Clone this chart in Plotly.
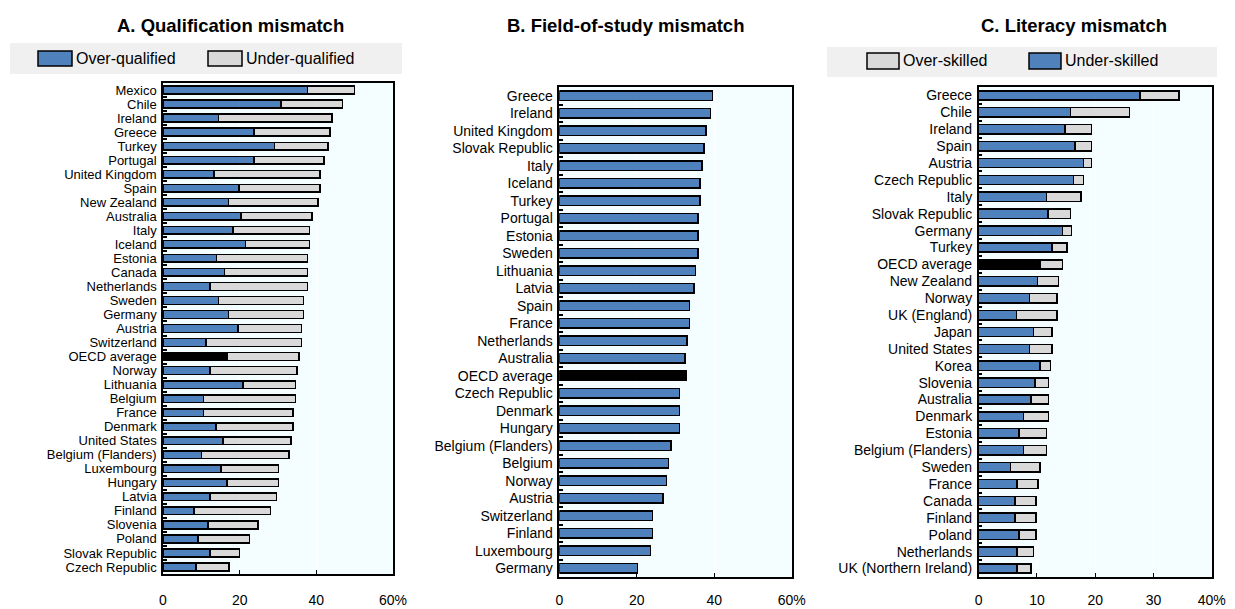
import plotly.graph_objects as go

# ---------------- Data ----------------
# Panel A: Qualification mismatch (%)
a_countries = ["Mexico", "Chile", "Ireland", "Greece", "Turkey", "Portugal", "United Kingdom",
               "Spain", "New Zealand", "Australia", "Italy", "Iceland", "Estonia", "Canada",
               "Netherlands", "Sweden", "Germany", "Austria", "Switzerland", "OECD average",
               "Norway", "Lithuania", "Belgium", "France", "Denmark", "United States",
               "Belgium (Flanders)", "Luxembourg", "Hungary", "Latvia", "Finland", "Slovenia",
               "Poland", "Slovak Republic", "Czech Republic"]
a_over_qualified = [37.7, 30.8, 14.5, 23.7, 29.1, 23.7, 13.3, 19.8, 17.1, 20.3, 18.3, 21.5, 13.9,
                    16.0, 12.3, 14.5, 17.1, 19.5, 11.2, 16.8, 12.3, 20.9, 10.6, 10.6, 13.8, 15.6,
                    10.1, 15.1, 16.7, 12.3, 8.1, 11.8, 9.1, 12.3, 8.6]
a_under_qualified = [12.3, 16.0, 29.6, 19.8, 13.9, 18.3, 27.7, 21.2, 23.3, 18.6, 19.9, 16.7, 23.8,
                     21.7, 25.4, 22.1, 19.5, 16.6, 24.9, 18.7, 22.7, 13.6, 23.9, 23.3, 20.1, 17.8,
                     22.8, 15.0, 13.4, 17.3, 19.9, 13.0, 13.5, 7.6, 8.6]

# Panel B: Field-of-study mismatch (%)
b_countries = ["Greece", "Ireland", "United Kingdom", "Slovak Republic", "Italy", "Iceland",
               "Turkey", "Portugal", "Estonia", "Sweden", "Lithuania", "Latvia", "Spain",
               "France", "Netherlands", "Australia", "OECD average", "Czech Republic",
               "Denmark", "Hungary", "Belgium (Flanders)", "Belgium", "Norway", "Austria",
               "Switzerland", "Finland", "Luxembourg", "Germany"]
b_field_mismatch = [39.5, 39.0, 37.9, 37.3, 36.8, 36.3, 36.3, 35.8, 35.8, 35.8, 35.2, 34.7, 33.6,
                    33.6, 33.0, 32.5, 32.7, 31.0, 31.0, 31.0, 28.8, 28.2, 27.7, 26.7, 24.0, 24.0,
                    23.5, 20.2]

# Panel C: Literacy mismatch (%)
c_countries = ["Greece", "Chile", "Ireland", "Spain", "Austria", "Czech Republic", "Italy",
               "Slovak Republic", "Germany", "Turkey", "OECD average", "New Zealand", "Norway",
               "UK (England)", "Japan", "United States", "Korea", "Slovenia", "Australia",
               "Denmark", "Estonia", "Belgium (Flanders)", "Sweden", "France", "Canada",
               "Finland", "Poland", "Netherlands", "UK (Northern Ireland)"]
c_under_skilled = [27.7, 15.8, 14.8, 16.5, 18.0, 16.3, 11.6, 11.9, 14.4, 12.6, 10.6, 10.1, 8.7,
                   6.5, 9.4, 8.7, 10.5, 9.7, 9.0, 7.7, 6.9, 7.7, 5.5, 6.6, 6.2, 6.2, 6.9, 6.6, 6.6]
c_over_skilled = [6.7, 10.1, 4.6, 2.9, 1.4, 1.7, 6.0, 3.9, 1.5, 2.6, 3.8, 3.6, 4.7, 6.9, 3.2, 3.9,
                  1.8, 2.3, 3.0, 4.3, 4.7, 3.9, 5.0, 3.6, 3.6, 3.6, 2.9, 2.8, 2.4]

# Axis ticks
a_tickvals = [0, 20, 40, 60]
a_ticktext = ["0", "20", "40", "60%"]
b_tickvals = [0, 20, 40, 60]
b_ticktext = ["0", "20", "40", "60%"]
c_tickvals = [0, 10, 20, 30, 40]
c_ticktext = ["0", "10", "20", "30", "40%"]

# Legend labels
a_legend = ["Over-qualified", "Under-qualified"]
c_legend = ["Over-skilled", "Under-skilled"]

# ---------------- Styles ----------------
BLUE = "#4F81BD"
GREY = "#D9D9D9"
BLACK = "#000000"
PLOT_BG = "#F4FDFF"
LEG_BG = "#F0F0F0"
FONT = "Liberation Sans, Arial, sans-serif"
W, H = 1235, 609


def colors(cats, base):
    return [BLACK if c == "OECD average" else base for c in cats]


outline = dict(color=BLACK, width=1.5)

fig = go.Figure()

# Panel A
fig.add_trace(go.Bar(y=a_countries, x=a_over_qualified, orientation="h", name=a_legend[0],
                     marker=dict(color=colors(a_countries, BLUE), line=outline),
                     xaxis="x", yaxis="y", showlegend=False))
fig.add_trace(go.Bar(y=a_countries, x=a_under_qualified, orientation="h", name=a_legend[1],
                     marker=dict(color=GREY, line=outline),
                     xaxis="x", yaxis="y", showlegend=False))
# Panel B
fig.add_trace(go.Bar(y=b_countries, x=b_field_mismatch, orientation="h", name="Field-of-study mismatch",
                     marker=dict(color=colors(b_countries, BLUE), line=outline),
                     xaxis="x2", yaxis="y2", showlegend=False))
# Panel C
fig.add_trace(go.Bar(y=c_countries, x=c_under_skilled, orientation="h", name=c_legend[1],
                     marker=dict(color=colors(c_countries, BLUE), line=outline),
                     xaxis="x3", yaxis="y3", showlegend=False))
fig.add_trace(go.Bar(y=c_countries, x=c_over_skilled, orientation="h", name=c_legend[0],
                     marker=dict(color=GREY, line=outline),
                     xaxis="x3", yaxis="y3", showlegend=False))


def xax(domain, rng, tv, tt, anchor, standoff):
    return dict(domain=domain, range=rng, tickvals=tv, ticktext=tt, anchor=anchor, showgrid=True,
                gridcolor="white", gridwidth=1, zeroline=False, showline=True, linecolor=BLACK,
                linewidth=1.5, mirror=True, ticks="inside", ticklen=4, tickcolor=BLACK,
                tickfont=dict(size=14, color=BLACK), ticklabelstandoff=standoff, fixedrange=True,
                automargin=False)


def yax(domain, cats, anchor, fs):
    n = len(cats)
    return dict(domain=domain, anchor=anchor, type="category", categoryorder="array",
                categoryarray=cats, range=[n - 0.5, -0.5], tickmode="linear", tick0=0, dtick=1,
                showline=True, linecolor=BLACK, linewidth=1.5, mirror=True, ticks="inside",
                tickson="boundaries", ticklen=4, tickwidth=1.5, tickcolor=BLACK, showgrid=False,
                tickfont=dict(size=fs, color=BLACK), ticklabelstandoff=2, fixedrange=True,
                automargin=False)


def px(v):
    return v / W


def py(v):
    return 1 - v / H


def legend_item(x0, y0, x1, y1, color, label):
    shape = dict(type="rect", xref="paper", yref="paper", x0=px(x0), x1=px(x1), y0=py(y1), y1=py(y0),
                 fillcolor=color, line=dict(color=BLACK, width=1.5))
    ann = dict(text=label, xref="paper", yref="paper", x=px(x1 + 2), y=py((y0 + y1) / 2),
               xanchor="left", yanchor="middle", showarrow=False, font=dict(size=16))
    return shape, ann


shapes = [
    dict(type="rect", xref="paper", yref="paper", x0=px(10), x1=px(402), y0=py(74), y1=py(43),
         fillcolor=LEG_BG, line=dict(width=0), layer="below"),
    dict(type="rect", xref="paper", yref="paper", x0=px(827), x1=px(1217), y0=py(77), y1=py(47),
         fillcolor=LEG_BG, line=dict(width=0), layer="below"),
]
annotations = [
    dict(text="<b>A. Qualification mismatch</b>", xref="paper", yref="paper", x=px(230), y=py(26),
         showarrow=False, font=dict(size=18.5), xanchor="center", yanchor="middle"),
    dict(text="<b>B. Field-of-study mismatch</b>", xref="paper", yref="paper", x=px(625), y=py(26),
         showarrow=False, font=dict(size=18.5), xanchor="center", yanchor="middle"),
    dict(text="<b>C. Literacy mismatch</b>", xref="paper", yref="paper", x=px(1074), y=py(26),
         showarrow=False, font=dict(size=18.5), xanchor="center", yanchor="middle"),
]
for spec in [(38, 51, 72, 66, BLUE, a_legend[0]), (208, 51, 242, 66, GREY, a_legend[1]),
             (867, 53, 899, 69, GREY, c_legend[0]), (1029, 53, 1061, 69, BLUE, c_legend[1])]:
    s, a = legend_item(*spec)
    shapes.append(s)
    annotations.append(a)

fig.update_layout(
    width=W, height=H, margin=dict(l=0, r=0, t=0, b=0, autoexpand=False),
    paper_bgcolor="white", plot_bgcolor=PLOT_BG,
    font=dict(family=FONT, size=14, color=BLACK),
    barmode="stack", bargap=0.45, showlegend=False,
    xaxis=xax([px(163), px(393)], [0, 60], a_tickvals, a_ticktext, "y", 12),
    yaxis=yax([py(574), py(83)], a_countries, "x", 13),
    xaxis2=xax([px(559.3), px(791.8)], [0, 60], b_tickvals, b_ticktext, "y2", 9),
    yaxis2=yax([py(577), py(87)], b_countries, "x2", 14),
    xaxis3=xax([px(978.7), px(1211.7)], [0, 40], c_tickvals, c_ticktext, "y3", 9),
    yaxis3=yax([py(577), py(87)], c_countries, "x3", 14),
    shapes=shapes,
    annotations=annotations,
)

fig.write_html("out.html", config={"displayModeBar": False},
               post_script="document.body.style.margin='0px';")
